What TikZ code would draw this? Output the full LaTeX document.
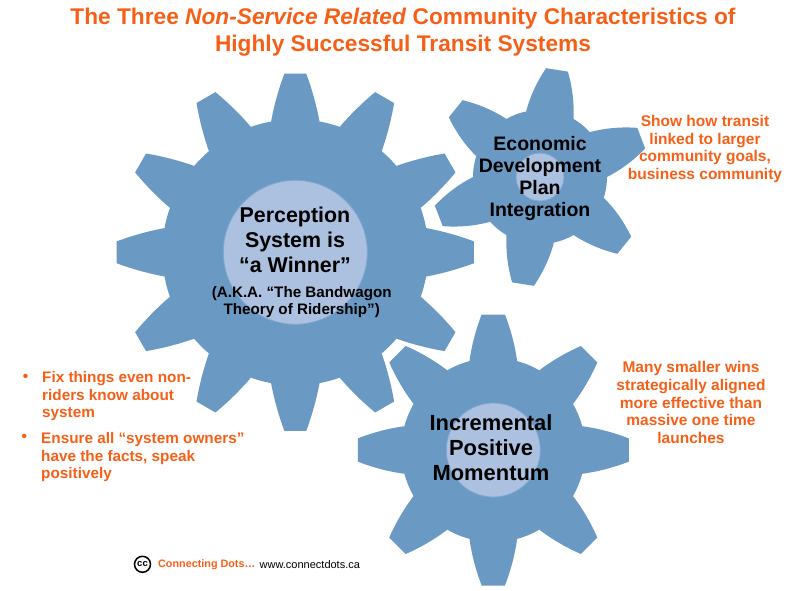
\documentclass[tikz,border=0pt]{standalone}
\usepackage{fontspec}
\setmainfont{Liberation Sans}
\definecolor{gearblue}{HTML}{6A9AC4}
\definecolor{hubblue}{HTML}{ABC1DF}
\definecolor{hubedge}{HTML}{7FA5D2}
\definecolor{notecolor}{HTML}{F65F17}
\tikzset{
    hubdisc/.style={circle,fill=hubblue,draw=hubedge,line width=0.8pt,inner sep=0pt,outer sep=0pt},
    geartext/.style 2 args={align=center,inner sep=0pt,font=\bfseries\fontsize{#1}{#2}\selectfont},
    notetext/.style={geartext={15.5}{17.6},text=notecolor},
    bullettext/.style={geartext={15.3}{17.6},text=notecolor,align=left,anchor=north west}
}
% centre, tooth angles, tip radius, root radius, tip half angle, base half angle
\newcommand{\gearwheel}[6]{
    \begin{scope}[shift={(#1)}]
        \fill[gearblue] (0,0) circle (#4);
        \foreach \a in {#2}{
            \fill[gearblue] ({\a+#5}:#3) -- ({\a-#5}:#3)
                .. controls ({\a-#5-0.34*(#6-#5)}:{#3-0.33*(#3-#4)}) and ({\a-#5-0.68*(#6-#5)}:{#3-0.67*(#3-#4)}) .. ({\a-#6}:#4)
                -- ({\a+#6}:#4)
                .. controls ({\a+#5+0.68*(#6-#5)}:{#3-0.67*(#3-#4)}) and ({\a+#5+0.34*(#6-#5)}:{#3-0.33*(#3-#4)}) .. cycle;
        }
    \end{scope}
}
\begin{document}
\begin{tikzpicture}[x=1pt,y=1pt]
    \useasboundingbox (0,0) rectangle (806,-591);
    \coordinate (perceptionc) at (295.3,-252.3);
    \coordinate (economicc) at (540,-177);
    \coordinate (momentumc) at (493.3,-450);
    % gears
    \gearwheel{perceptionc}{0,30,...,330}{179}{133}{3.5}{10.5}
    \gearwheel{economicc}{21,81,141,201,261,321}{109}{67}{5.8}{21}
    \gearwheel{momentumc}{0,45,...,315}{136}{92}{4.9}{15}
    \node[hubdisc,minimum size=144pt] (perceptionhub) at (perceptionc) {};
    \node[hubdisc,minimum size=48pt] (economichub) at (economicc) {};
    \node[hubdisc,minimum size=94pt] (momentumhub) at (momentumc) {};
    % title
    \node[geartext={22.7}{27},text=notecolor] (title) at (403,-32)
        {The Three \textit{Non-Service Related} Community Characteristics of\\Highly Successful Transit Systems};
    % gear labels
    \node[geartext={21.4}{25}] (perception) at (295,-240) {Perception\\System is\\“a Winner”};
    \node[geartext={15.2}{17.5}] (bandwagon) at (301.7,-302)
        {(A.K.A. “The Bandwagon\\Theory of Ridership”)};
    \node[geartext={19.5}{22.2}] (economic) at (540,-178.7) {Economic\\Development\\Plan\\Integration};
    \node[geartext={21.9}{25}] (momentum) at (491,-448) {Incremental\\Positive\\Momentum};
    % notes
    \node[notetext] (transitnote) at (705,-149) {Show how transit\\linked to larger\\community goals,\\business community};
    \node[notetext] (winsnote) at (691,-402.5) {Many smaller wins\\strategically aligned\\more effective than\\massive one time\\launches};
    \node[bullettext] (ownersa) at (42,-371.5) {Fix things even non-\\riders know about\\system};
    \node[bullettext] (ownersb) at (41,-432.5) {Ensure all “system owners”\\have the facts, speak\\positively};
    \node[notetext] (bulleta) at (25.5,-378) {•};
    \node[notetext] (bulletb) at (24.3,-438) {•};
    % footer
    \node[circle,draw,line width=1.5pt,inner sep=0pt,minimum size=16pt,font=\bfseries\fontsize{9.5}{9.5}\selectfont] (cclogo) at (142.5,-564.3) {cc};
    \node[anchor=west,inner sep=0pt,text=notecolor,font=\bfseries\fontsize{10.8}{14}\selectfont] (dots) at (158,-565) {Connecting Dots…};
    \node[anchor=west,inner sep=0pt,font=\fontsize{11}{14}\selectfont] (website) at (259.5,-565) {www.connectdots.ca};
\end{tikzpicture}
\end{document}
